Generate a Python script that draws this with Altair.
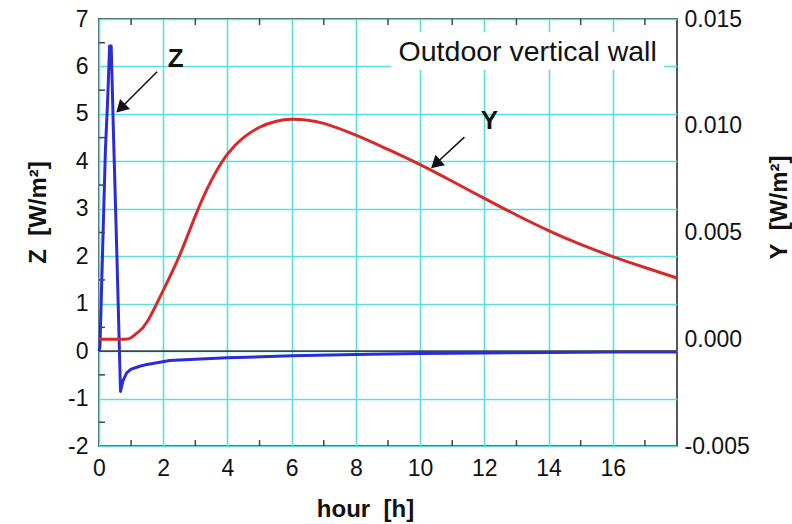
import altair as alt
import pandas as pd

# ---- data ----
z_hours = [0, 0.03, 0.13, 0.2, 0.27, 0.33, 0.38, 0.45, 0.55, 0.67, 0.75, 0.86, 1.0, 1.27,
           1.5, 2.2, 3, 4, 6, 8, 10, 12, 14, 16, 18]
z_vals = [0, 0.1, 2.56, 4.25, 5.3, 6.43, 6.43, 4.6, 2.2, -0.85, -0.62, -0.46, -0.38, -0.32,
          -0.28, -0.2, -0.17, -0.14, -0.1, -0.07, -0.05, -0.04, -0.03, -0.02, -0.02]

y_hours = [0, 0.5, 0.8, 1.0, 1.2, 1.5, 2, 2.5, 3, 3.5, 4, 4.5, 5, 5.5, 6, 6.5, 7, 8, 9, 10,
           11, 12, 13, 14, 15, 16, 17, 18]
y_vals = [0.0, 0.0, 0.0, 0.00007, 0.00031, 0.00082, 0.00229, 0.00389, 0.00578, 0.00744,
          0.00867, 0.00944, 0.00993, 0.01020, 0.01030, 0.01026, 0.01011, 0.00956, 0.00889,
          0.00818, 0.00740, 0.00660, 0.00582, 0.00509, 0.00444, 0.00387, 0.00336, 0.00287]

x_ticks = [0, 2, 4, 6, 8, 10, 12, 14, 16]
x_minor = [1, 3, 5, 7, 9, 11, 13, 15, 17]
z_ticks = [-2, -1, 0, 1, 2, 3, 4, 5, 6, 7]
z_minor = [-1.5, -0.5, 0.5, 1.5, 2.5, 3.5, 4.5, 5.5, 6.5]
y_ticks = [-0.005, 0.0, 0.005, 0.010, 0.015]

FONT = "Liberation Sans"
GRID = "#5adfe0"
RED = "#d62a2a"
BLUE = "#2b2bd8"

W, H = 578, 427

x_scale = alt.Scale(domain=[0, 18], nice=False, zero=False)
z_scale = alt.Scale(domain=[-2, 7], nice=False, zero=False)
y_scale = alt.Scale(domain=[-0.005, 0.015], nice=False, zero=False)

zdf = pd.DataFrame({"hour": z_hours, "z": z_vals})
ydf = pd.DataFrame({"hour": y_hours, "yv": y_vals})

x_axis = alt.Axis(values=x_ticks, grid=True, gridColor=GRID, gridWidth=1.6, ticks=False,
                  domain=False, labelFont=FONT, labelFontSize=23, labelColor="#111",
                  labelPadding=11, labelFlush=False, labelOverlap=False,
                  title="hour\u00a0\u00a0[h]", titleFont=FONT,
                  titleFontSize=24, titleFontWeight="bold", titleColor="#111",
                  titleX=266, titleY=63, titleBaseline="middle", titleAlign="center")
z_axis = alt.Axis(values=z_ticks, grid=True, gridColor=GRID, gridWidth=1.6, ticks=False,
                  domain=False, labelFont=FONT, labelFontSize=23, labelColor="#111",
                  labelPadding=11, labelFlush=False, labelOverlap=False,
                  labelExpr="datum.value < 0 ? '-' + format(-datum.value, 'd') : format(datum.value, 'd')",
                  title="Z\u00a0\u00a0[W/m²]", titleFont=FONT, titleFontSize=24,
                  titleFontWeight="bold", titleColor="#111", titleAngle=270,
                  titleX=-61, titleY=193, titleBaseline="middle", titleAlign="center")
y_axis = alt.Axis(orient="right", values=y_ticks, grid=False, ticks=False, domain=False,
                  labelFont=FONT, labelFontSize=23, labelColor="#111", labelPadding=7,
                  labelFlush=False, labelOverlap=False,
                  labelExpr="datum.value < -1e-9 ? '-' + format(-datum.value, '.3f') : format(abs(datum.value), '.3f')",
                  title="Y\u00a0\u00a0[W/m²]", titleFont=FONT, titleFontSize=24,
                  titleFontWeight="bold", titleColor="#111", titleAngle=270,
                  titleX=102, titleY=188, titleBaseline="middle", titleAlign="center")


def X(field="hour"):
    return alt.X(f"{field}:Q", scale=x_scale, axis=x_axis)


def Z(field="z"):
    return alt.Y(f"{field}:Q", scale=z_scale, axis=z_axis)


z_line = alt.Chart(zdf).mark_line(color=BLUE, strokeWidth=3, strokeJoin="round").encode(
    x=X(), y=Z())

zero_df = pd.DataFrame({"z": [0]})
zero_line = alt.Chart(zero_df).mark_rule(color="#444", strokeWidth=1.8).encode(y=Z())

bx = pd.DataFrame({"hour": x_minor})
bottom_ticks = alt.Chart(bx).mark_rule(color="#444", strokeWidth=1.5).encode(
    x=X(), y=alt.value(H), y2=alt.value(H - 6))
top_ticks = alt.Chart(bx).mark_rule(color="#444", strokeWidth=1.5).encode(
    x=X(), y=alt.value(0), y2=alt.value(6))
lz = pd.DataFrame({"z": z_minor})
left_ticks = alt.Chart(lz).mark_rule(color="#444", strokeWidth=1.5).encode(
    y=Z(), x=alt.value(0), x2=alt.value(6))

# white box behind the label
box_df = pd.DataFrame({"hour": [9.1], "hour2": [17.6], "z": [5.93], "z2": [6.72]})
box = alt.Chart(box_df).mark_rect(color="white").encode(
    x=X(), x2="hour2:Q", y=Z(), y2="z2:Q")

label_df = pd.DataFrame({"hour": [13.35], "z": [6.31], "t": ["Outdoor vertical wall"]})
label = alt.Chart(label_df).mark_text(font=FONT, fontSize=28.5, color="#111",
                                      baseline="middle", align="center").encode(
    x=X(), y=Z(), text="t:N")

names_df = pd.DataFrame({"hour": [2.39, 12.16], "z": [6.16, 4.84], "t": ["Z", "Y"]})
names = alt.Chart(names_df).mark_text(font=FONT, fontSize=26, fontWeight="bold", color="#111",
                                      baseline="middle", align="center").encode(
    x=X(), y=Z(), text="t:N")

arrow_df = pd.DataFrame({"hour": [1.81, 11.38], "z": [5.89, 4.51],
                         "hour2": [0.72, 10.5], "z2": [5.15, 3.96]})
arrow_lines = alt.Chart(arrow_df).mark_rule(color="#111", strokeWidth=1.5).encode(
    x=X(), x2="hour2:Q", y=Z(), y2="z2:Q")

head_df = pd.DataFrame({"hour": [0.72, 10.53], "z": [5.15, 3.97], "ang": [225, 228]})
arrow_heads = alt.Chart(head_df).mark_point(shape="triangle", filled=True, color="#111",
                                            opacity=1, size=200).encode(
    x=X(), y=Z(), angle=alt.Angle("ang:Q", scale=None))

z_layer = alt.layer(z_line, zero_line, bottom_ticks, top_ticks, left_ticks, box, label,
                    names, arrow_lines, arrow_heads)

y_line = alt.Chart(ydf).mark_line(color=RED, strokeWidth=3, interpolate="natural").encode(
    x=X(), y=alt.Y("yv:Q", scale=y_scale, axis=y_axis))

chart = alt.layer(z_layer, y_line).resolve_scale(y="independent").properties(
    width=W, height=H,
    autosize=alt.AutoSizeParams(type="none"),
    padding={"left": 99, "top": 19, "right": 115, "bottom": 78},
    background="white",
).configure_view(stroke="#555", strokeWidth=2)

chart.save("out.html", embed_options={"renderer": "svg", "actions": False})
